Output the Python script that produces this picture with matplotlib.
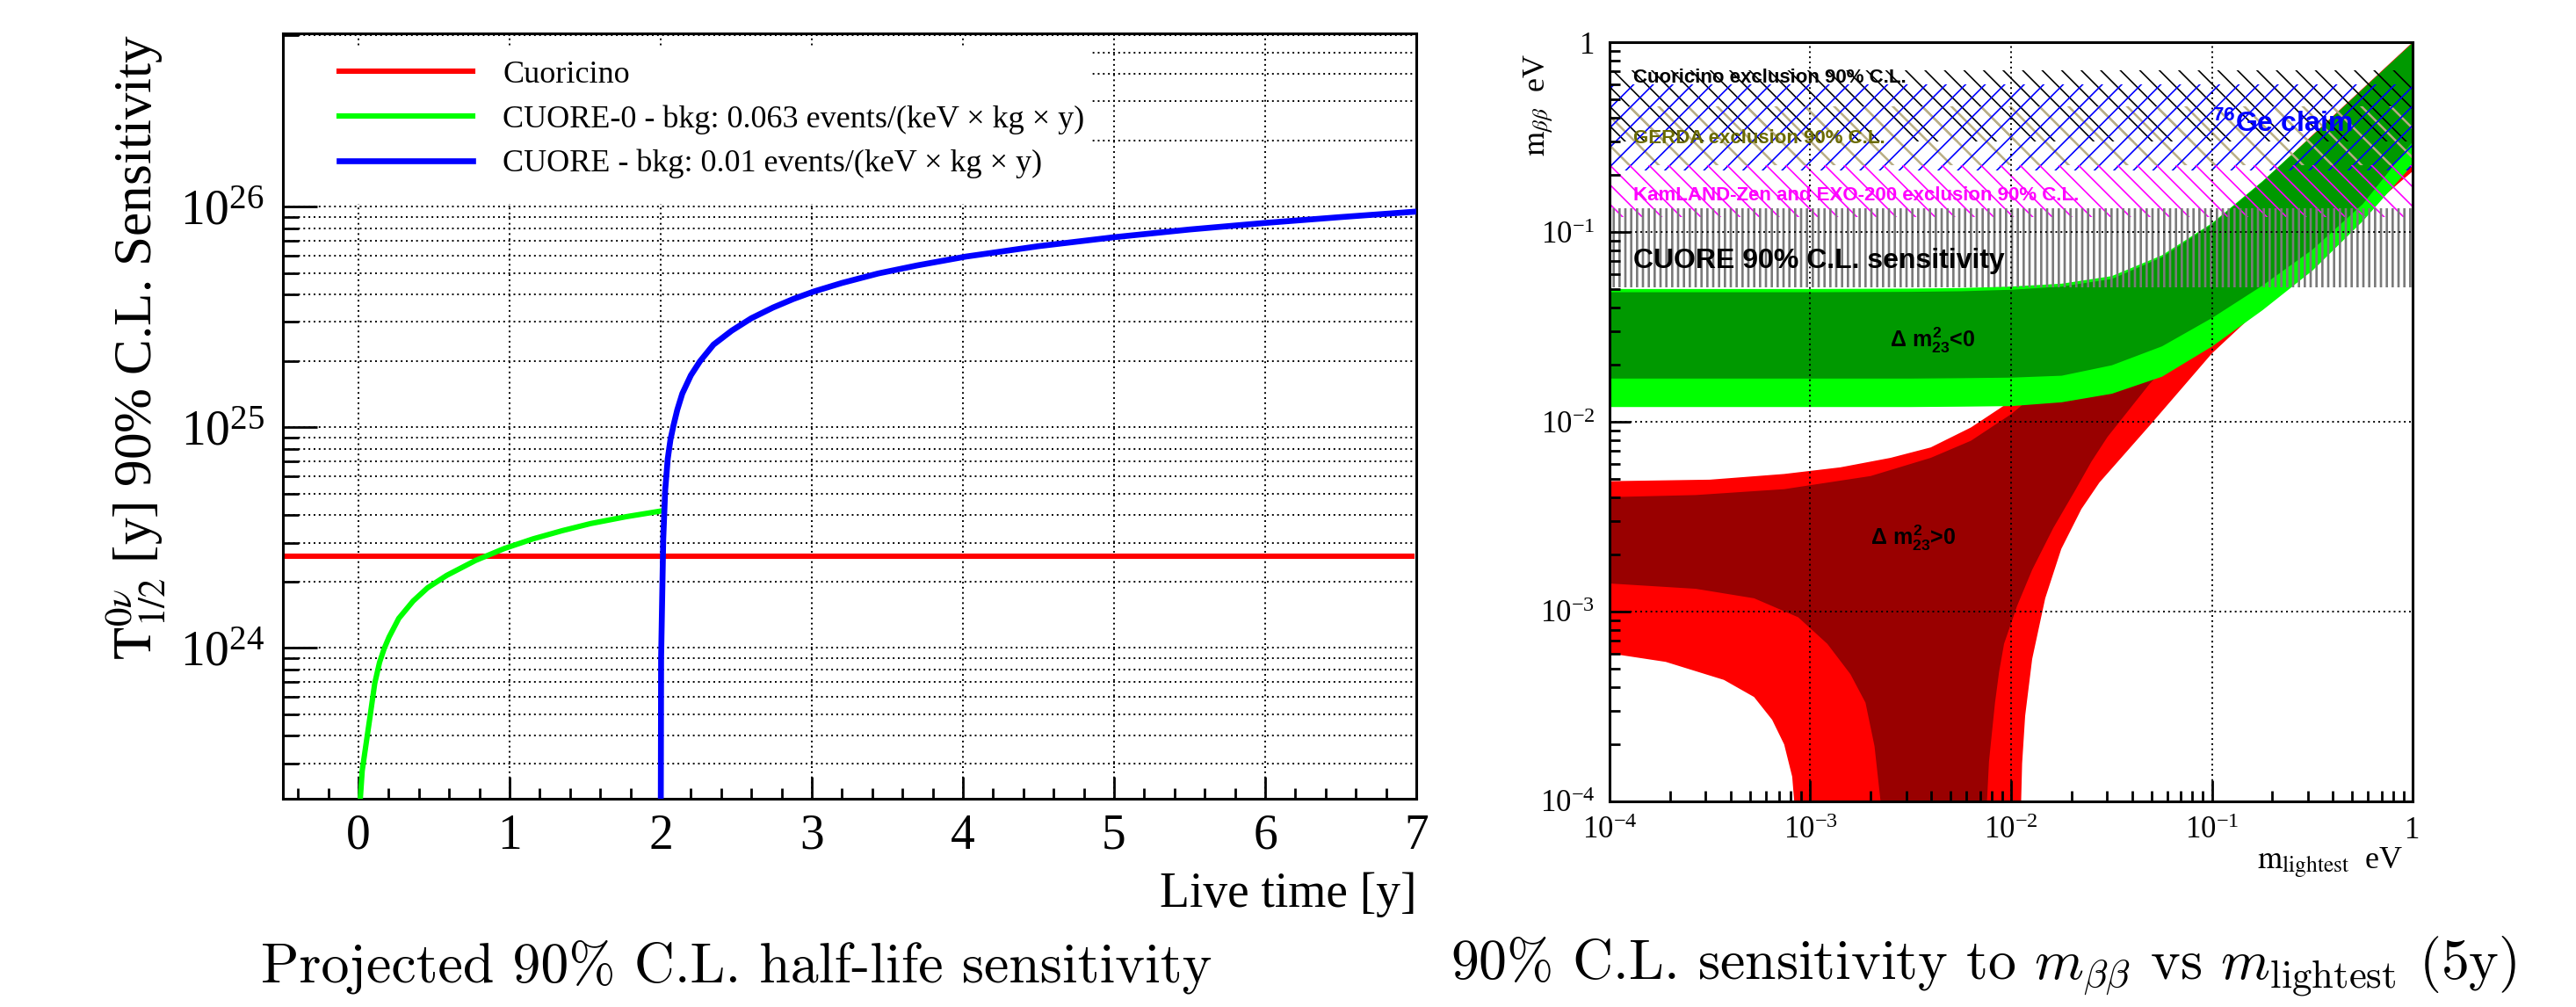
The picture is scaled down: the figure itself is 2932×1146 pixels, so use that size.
import numpy as np
import matplotlib
matplotlib.use("Agg")
import matplotlib.pyplot as plt
from matplotlib.ticker import MultipleLocator, LogLocator, NullFormatter, FuncFormatter
from matplotlib.patches import Rectangle

plt.rcParams['font.family'] = ['Liberation Serif', 'DejaVu Serif']
plt.rcParams['mathtext.fontset'] = 'stix'
# bold sans used by the ROOT style labels on the right panel
plt.rcParams['mathtext.rm'] = 'Liberation Sans:bold'
plt.rcParams['mathtext.it'] = 'Liberation Sans:bold'
plt.rcParams['mathtext.bf'] = 'Liberation Sans:bold'
plt.rcParams['hatch.linewidth'] = 0.6

# ---- left panel: half-life sensitivity vs live time ----
cuoricino_t = [-0.47, 6.97]
cuoricino_T = [2.6e24, 2.6e24]

cuore0_t = [0.013, 0.025, 0.044, 0.076, 0.108, 0.14, 0.17, 0.203, 0.267, 0.362, 0.457,
            0.584, 0.775, 0.965, 1.156, 1.35, 1.537, 1.77, 2.0]
cuore0_T = [2.09e23, 2.77e23, 3.41e23, 4.83e23, 6.9e23, 8.6e23, 9.9e23, 1.12e24, 1.36e24,
            1.63e24, 1.87e24, 2.13e24, 2.49e24, 2.82e24, 3.12e24, 3.4e24, 3.66e24, 3.93e24, 4.17e24]

cuore_t = [2.0, 2.003, 2.017, 2.03, 2.047, 2.065, 2.085, 2.11, 2.143, 2.2, 2.26, 2.35, 2.47,
           2.6, 2.744, 2.88, 3.016, 3.2, 3.44, 3.7, 4.02, 4.5, 5.0, 5.5, 6.0, 6.5, 7.0]
cuore_T = [1.0e23, 9.0e23, 3.1e24, 5.2e24, 7.2e24, 8.8e24, 1.02e25, 1.2e25, 1.42e25, 1.72e25,
           1.99e25, 2.37e25, 2.74e25, 3.12e25, 3.49e25, 3.82e25, 4.13e25, 4.51e25, 4.98e25,
           5.42e25, 5.94e25, 6.62e25, 7.27e25, 7.88e25, 8.44e25, 8.97e25, 9.5e25]

labels_left = ['Cuoricino',
               'CUORE-0 - bkg: 0.063 events/(keV \u00d7 kg \u00d7 y)',
               'CUORE - bkg: 0.01 events/(keV \u00d7 kg \u00d7 y)']

# ---- right panel: m_bb vs m_lightest (log10 eV) ----
ih_logm = [-4.0, -3.0, -2.5, -2.25, -2.0, -1.75, -1.5, -1.25, -1.0, -0.75, -0.5, -0.25, 0.0]
ih_out_hi = [-1.298, -1.298, -1.296, -1.293, -1.285, -1.27, -1.23, -1.12, -0.95, -0.73, -0.49, -0.245, 0.0]
ih_in_hi = [-1.315, -1.315, -1.313, -1.31, -1.302, -1.285, -1.245, -1.13, -0.955, -0.733, -0.49, -0.245, 0.0]
ih_in_lo = [-1.77, -1.77, -1.77, -1.768, -1.765, -1.755, -1.70, -1.60, -1.45, -1.28, -1.09, -0.85, -0.52]
ih_out_lo = [-1.92, -1.92, -1.92, -1.918, -1.915, -1.895, -1.85, -1.76, -1.60, -1.41, -1.20, -0.94, -0.64]

# normal hierarchy outlines (upper edge, right lower edge, left lower edge)
nh_out_logm = [-4.0, -3.5, -3.13, -2.85, -2.6, -2.4, -2.2, -2.0, -1.75, -1.5, -1.25, -1.0, -0.5, 0.0,
               0.0, -0.385, -0.696, -1.0, -1.31, -1.56, -1.65, -1.75, -1.83, -1.895, -1.93, -1.945, -1.95,
               -3.08, -3.09, -3.13, -3.19, -3.28, -3.43, -3.72, -4.0]
nh_out_logmbb = [-2.313, -2.305, -2.275, -2.24, -2.19, -2.135, -2.03, -1.89, -1.70, -1.47, -1.24, -0.99, -0.49, 0.0,
                 -0.68, -1.03, -1.34, -1.64, -2.02, -2.32, -2.46, -2.67, -2.93, -3.25, -3.55, -3.8, -4.0,
                 -4.0, -3.87, -3.70, -3.57, -3.45, -3.36, -3.265, -3.22]
nh_in_logm = [-4.0, -3.57, -3.13, -2.7, -2.4, -2.2, -2.0, -1.75, -1.5, -1.0, -0.5, 0.0,
              0.0, -0.5, -1.0, -1.31, -1.52, -1.6, -1.68, -1.79, -1.895, -1.97, -2.035, -2.06, -2.08, -2.11, -2.12,
              -2.65, -2.68, -2.725, -2.80, -2.915, -3.06, -3.28, -3.57, -4.0]
nh_in_logmbb = [-2.397, -2.386, -2.355, -2.286, -2.19, -2.10, -1.96, -1.74, -1.51, -1.02, -0.51, -0.01,
                -0.56, -1.12, -1.47, -1.80, -2.08, -2.21, -2.36, -2.56, -2.78, -2.97, -3.17, -3.32, -3.48, -3.79, -4.0,
                -4.0, -3.71, -3.48, -3.33, -3.17, -3.03, -2.93, -2.88, -2.852]

# exclusion / sensitivity bands in eV
band_names = ['Cuoricino', 'GERDA', 'Ge claim', 'KamLAND-Zen', 'CUORE']
band_lo = [0.30, 0.225, 0.21, 0.12, 0.051]
band_hi = [0.71, 0.46, 0.60, 0.225, 0.133]
band_color = ['black', '#b8ad84', 'blue', 'magenta', '#7a7a7a']
band_hatch = ['\\\\\\', '\\\\', '///', '\\\\\\', '|||||']
band_hatch_lw = [0.6, 0.9, 0.6, 0.6, 0.95]

fig = plt.figure(figsize=(14.66, 5.73), dpi=200)
ax = fig.add_axes([0.1098, 0.2068, 0.44, 0.76])
ax2 = fig.add_axes([0.6248, 0.2042, 0.3118, 0.7539])

dots = (0, (1, 2))

# left panel
ax.set_yscale('log')
ax.set_xlim(-0.5, 7)
ax.set_ylim(2.07e23, 6.1e26)
ax.plot(cuoricino_t, cuoricino_T, color='#ff0000', lw=2.2, label=labels_left[0], zorder=3)
ax.plot(cuore0_t, cuore0_T, color='#00ff00', lw=2.2, label=labels_left[1], zorder=3)
ax.plot(cuore_t, cuore_T, color='#0000ff', lw=2.4, label=labels_left[2], zorder=4)
ax.xaxis.set_major_locator(MultipleLocator(1))
ax.xaxis.set_minor_locator(MultipleLocator(0.2))
ax.yaxis.set_major_locator(LogLocator(base=10))
ax.yaxis.set_minor_locator(LogLocator(base=10, subs=np.arange(2, 10)))
ax.yaxis.set_minor_formatter(NullFormatter())
ax.grid(True, axis='y', which='both', ls=dots, color='black', lw=0.7)
ax.grid(True, axis='x', which='major', ls=dots, color='black', lw=0.7)
ax.tick_params(axis='both', which='both', direction='in', width=1.0, labelsize=20)
ax.tick_params(axis='y', which='major', length=14, pad=7.5)
ax.tick_params(axis='y', which='minor', length=6.5)
ax.tick_params(axis='x', which='major', length=9, pad=6)
ax.tick_params(axis='x', which='minor', length=4.3)
for s in ax.spines.values():
    s.set_linewidth(1.1)
ax.add_patch(Rectangle((0, 0.777), 0.712, 0.206, transform=ax.transAxes,
                       facecolor='white', edgecolor='none', zorder=1.6))
ax.legend(loc='upper left', bbox_to_anchor=(0.05, 0.965), frameon=False, fontsize=13,
          handlelength=4.2, handletextpad=0.95, labelspacing=0.48, borderpad=0, borderaxespad=0)
ax.set_xlabel('Live time [y]', fontsize=20, ha='right', va='center')
ax.xaxis.set_label_coords(1.0, -0.125)
ax.set_ylabel(r'$\mathrm{T}^{0\nu}_{1/2}$ [y] 90% C.L. Sensitivity', fontsize=22, va='center')
ax.yaxis.set_label_coords(-0.1295, 0.59)

# right panel
ax2.set_xscale('log')
ax2.set_yscale('log')
ax2.set_xlim(1e-4, 1)
ax2.set_ylim(1e-4, 1)

ax2.fill(10 ** np.array(nh_out_logm), 10 ** np.array(nh_out_logmbb), color='#ff0000', lw=0, zorder=1)
ax2.fill(10 ** np.array(nh_in_logm), 10 ** np.array(nh_in_logmbb), color='#990000', lw=0, zorder=1.1)
m_ih = 10 ** np.array(ih_logm)
ax2.fill_between(m_ih, 10 ** np.array(ih_out_lo), 10 ** np.array(ih_out_hi), color='#00ff00', lw=0, zorder=1.2)
ax2.fill_between(m_ih, 10 ** np.array(ih_in_lo), 10 ** np.array(ih_in_hi), color='#009900', lw=0, zorder=1.3)

for lo, hi, c, h, hlw in zip(band_lo, band_hi, band_color, band_hatch, band_hatch_lw):
    with plt.rc_context({'hatch.linewidth': hlw}):
        span = ax2.axhspan(lo, hi, facecolor='none', edgecolor=c, hatch=h, lw=0, zorder=2)
    if hasattr(span, 'set_hatch_linewidth'):
        span.set_hatch_linewidth(hlw)

lab = dict(family='Liberation Sans', weight='bold', math_fontfamily='custom', va='center', zorder=3)
ax2.text(1.31e-4, 0.65, 'Cuoricino exclusion 90% C.L.', color='black', fontsize=8, **lab)
ax2.text(1.31e-4, 0.31, 'GERDA exclusion 90% C.L.', color='#6b6b00', fontsize=8, **lab)
ax2.text(1.31e-4, 0.155, 'KamLAND-Zen and EXO-200 exclusion 90% C.L.', color='magenta', fontsize=8, **lab)
ax2.text(1.31e-4, 0.070, 'CUORE 90% C.L. sensitivity', color='black', fontsize=11.5, **lab)
ax2.text(0.1, 0.37, r'$^{76}$Ge claim', color='blue', fontsize=11.5, **lab)
ax2.text(2.5e-3, 0.027, r'$\Delta\ m^{2}_{23}$<0', color='black', fontsize=9, **lab)
ax2.text(2.0e-3, 0.00245, r'$\Delta\ m^{2}_{23}$>0', color='black', fontsize=9, **lab)

ax2.xaxis.set_major_locator(LogLocator(base=10))
ax2.yaxis.set_major_locator(LogLocator(base=10))
ax2.xaxis.set_minor_locator(LogLocator(base=10, subs=np.arange(2, 10)))
ax2.yaxis.set_minor_locator(LogLocator(base=10, subs=np.arange(2, 10)))
root_fmt = FuncFormatter(lambda v, p: '1' if np.isclose(v, 1) else r'$\mathdefault{10^{%d}}$' % round(np.log10(v)))
ax2.xaxis.set_major_formatter(root_fmt)
ax2.yaxis.set_major_formatter(root_fmt)
ax2.xaxis.set_minor_formatter(NullFormatter())
ax2.yaxis.set_minor_formatter(NullFormatter())
ax2.grid(True, which='major', ls=dots, color='black', lw=0.7)
ax2.set_axisbelow(False)
ax2.tick_params(axis='both', which='both', direction='in', width=1.0, labelsize=12.5)
ax2.tick_params(axis='both', which='major', length=8.5, pad=6)
ax2.tick_params(axis='both', which='minor', length=4.3)
for s in ax2.spines.values():
    s.set_linewidth(1.1)
ax2.set_xlabel(r'$\mathrm{m}_{\mathrm{lightest}}$  eV', fontsize=13, ha='right', va='center',
               math_fontfamily='stix')
ax2.xaxis.set_label_coords(0.988, -0.082)
ax2.set_ylabel(r'$\mathrm{m}_{\beta\beta}$  eV', fontsize=13, ha='right', va='center',
               math_fontfamily='stix')
ax2.yaxis.set_label_coords(-0.089, 0.986)

# captions under the panels
fig.text(0.286, 0.04, 'Projected 90% C.L. half-life sensitivity', family='cmr10',
         fontsize=23, ha='center', va='center')
fig.text(0.770, 0.04, r'90% C.L. sensitivity to $m_{\beta\beta}$ vs $m_{\rm lightest}$ (5y)',
         family='cmr10', math_fontfamily='cm', fontsize=23, ha='center', va='center')

fig.savefig('out.png', dpi=200)
